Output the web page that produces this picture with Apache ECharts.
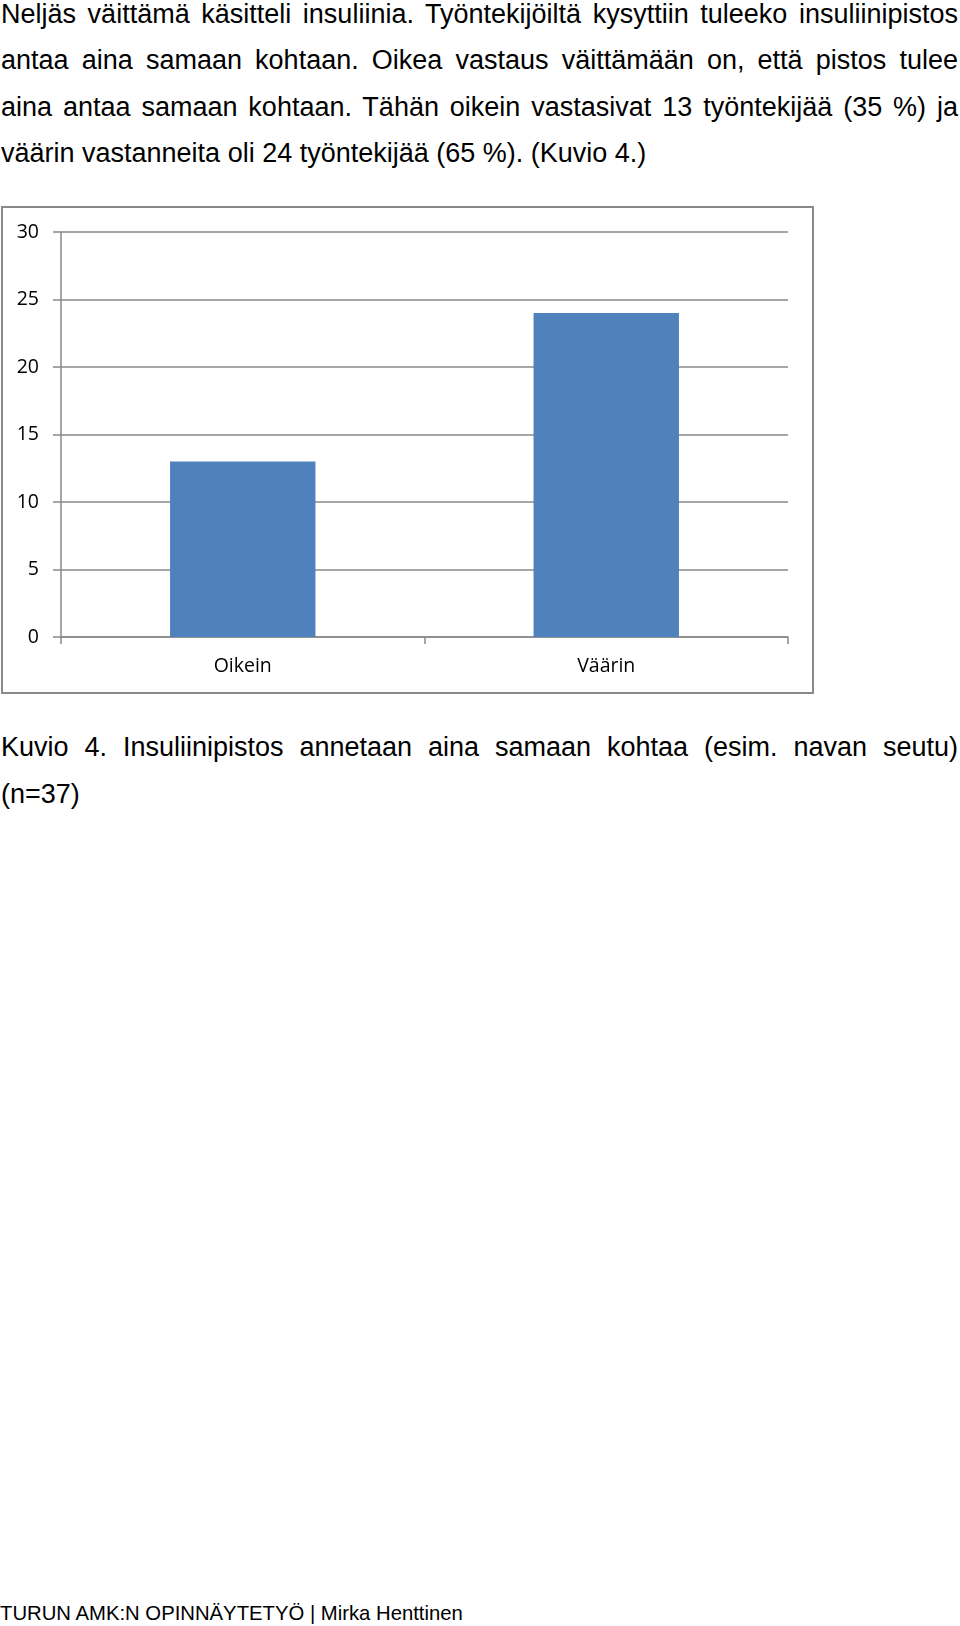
<!DOCTYPE html>
<html>
<head>
<meta charset="utf-8">
<script src="https://cdn.jsdelivr.net/npm/echarts@6/dist/echarts.min.js"></script>
<style>
  html, body { margin: 0; padding: 0; background: #fff; }
  body { width: 960px; height: 1626px; position: relative; overflow: hidden; }
  .para { position: absolute; left: 1px; width: 957px; font-family: "Liberation Sans", Arial, sans-serif; font-size: 27px; line-height: 46.5px; color: #000; }
  .para div { white-space: nowrap; }
  .para .j { text-align: justify; text-align-last: justify; white-space: normal; }
  #chart { position: absolute; left: 0; top: 200px; width: 830px; height: 500px; }
  #footer { position: absolute; left: 0; top: 1603px; font-family: "Liberation Sans", Arial, sans-serif; font-size: 20.3px; line-height: 20px; color: #000; white-space: nowrap; }
</style>
</head>
<body>
<div class="para" id="intro" style="top:-9.5px"></div>
<div id="chart"></div>
<div class="para" id="caption" style="top:724px"></div>
<div id="footer"></div>
<script>
// ---- data ----
const introLines = [
  "Neljäs väittämä käsitteli insuliinia. Työntekijöiltä kysyttiin tuleeko insuliinipistos",
  "antaa aina samaan kohtaan. Oikea vastaus väittämään on, että pistos tulee",
  "aina antaa samaan kohtaan. Tähän oikein vastasivat 13 työntekijää (35 %) ja",
  "väärin vastanneita oli 24 työntekijää (65 %). (Kuvio 4.)"
];
const captionLines = [
  "Kuvio 4. Insuliinipistos annetaan aina samaan kohtaa (esim. navan seutu)",
  "(n=37)"
];
const footerText = "TURUN AMK:N OPINNÄYTETYÖ | Mirka Henttinen";
const categories = ["Oikein", "Väärin"];
const values = [13, 24];
const yTicks = [0, 5, 10, 15, 20, 25, 30];

// ---- text ----
function fillLines(el, lines) {
  lines.forEach((t, i) => {
    const d = document.createElement('div');
    d.textContent = t;
    if (i < lines.length - 1) d.className = 'j';
    el.appendChild(d);
  });
}
fillLines(document.getElementById('intro'), introLines);
fillLines(document.getElementById('caption'), captionLines);
document.getElementById('footer').textContent = footerText;

// ---- chart ----
const chart = echarts.init(document.getElementById('chart'), null, { renderer: 'canvas' });
const gray = '#898989';
const labelFont = { fontFamily: '"Open Sans", "Noto Sans", sans-serif', fontSize: 19.5, color: '#000' };
chart.setOption({
  animation: false,
  backgroundColor: '#fff',
  graphic: [{
    type: 'rect',
    shape: { x: 2, y: 7, width: 811, height: 486 },
    style: { fill: null, stroke: gray, lineWidth: 2 },
    silent: true
  }],
  grid: { left: 61, top: 32, width: 727, height: 405, containLabel: false },
  xAxis: {
    type: 'category',
    data: categories,
    boundaryGap: true,
    axisLine: { show: true, lineStyle: { color: gray, width: 1.5 } },
    axisTick: { show: true, length: 7, inside: false, lineStyle: { color: gray, width: 1.5 } },
    axisLabel: Object.assign({ margin: 19 }, labelFont),
    splitLine: { show: false }
  },
  yAxis: {
    type: 'value',
    min: yTicks[0],
    max: yTicks[yTicks.length - 1],
    interval: yTicks[1] - yTicks[0],
    axisLine: { show: true, lineStyle: { color: gray, width: 1.5 } },
    axisTick: { show: true, length: 8, inside: false, lineStyle: { color: gray, width: 1.5 } },
    axisLabel: Object.assign({ margin: 22 }, labelFont),
    splitLine: { show: true, lineStyle: { color: gray, width: 1.5 } }
  },
  series: [{
    type: 'bar',
    data: values,
    barWidth: '40%',
    itemStyle: { color: '#4F81BD' },
    silent: true
  }]
});
</script>
</body>
</html>
